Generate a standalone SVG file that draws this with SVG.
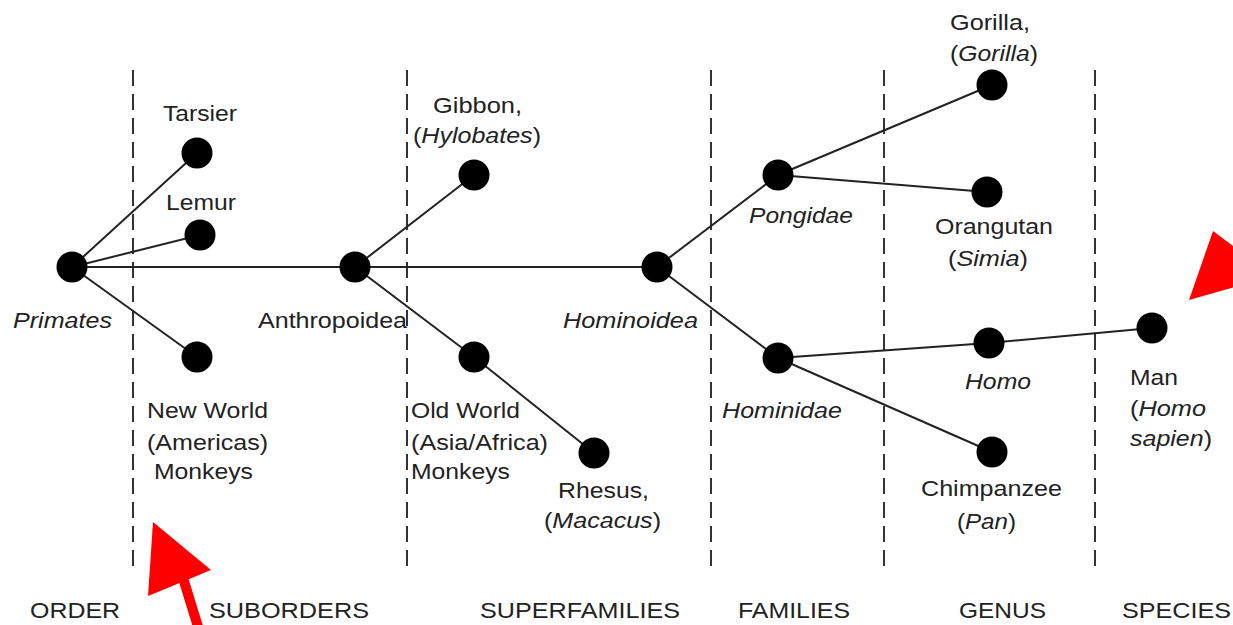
<svg xmlns="http://www.w3.org/2000/svg" width="1233" height="625" viewBox="0 0 1233 625">
<style>
text{font-family:"Liberation Sans",Arial,sans-serif;font-size:22px;fill:#222}
.i{font-style:italic}
.dash{stroke:#333;stroke-width:2;stroke-dasharray:16 8;fill:none}
.edge{stroke:#222;stroke-width:2;fill:none}
.node{fill:#000}
</style>
<rect width="1233" height="625" fill="#fff"/>
<g id="dividers">
<line class="dash" x1="133" y1="70" x2="133" y2="570"/>
<line class="dash" x1="407" y1="70" x2="407" y2="570"/>
<line class="dash" x1="711" y1="70" x2="711" y2="570"/>
<line class="dash" x1="884" y1="70" x2="884" y2="570"/>
<line class="dash" x1="1095" y1="70" x2="1095" y2="570"/>
</g>
<g id="connectors">
<line class="edge" x1="72" y1="267" x2="197" y2="153"/>
<line class="edge" x1="72" y1="267" x2="200" y2="235"/>
<line class="edge" x1="72" y1="267" x2="197" y2="357"/>
<line class="edge" x1="72" y1="267" x2="355" y2="267"/>
<line class="edge" x1="355" y1="267" x2="474" y2="175"/>
<line class="edge" x1="355" y1="267" x2="474" y2="357"/>
<line class="edge" x1="474" y1="357" x2="594" y2="453"/>
<line class="edge" x1="355" y1="267" x2="657" y2="267"/>
<line class="edge" x1="657" y1="267" x2="778" y2="175"/>
<line class="edge" x1="657" y1="267" x2="778" y2="358"/>
<line class="edge" x1="778" y1="175" x2="992" y2="85"/>
<line class="edge" x1="778" y1="175" x2="987" y2="192"/>
<line class="edge" x1="778" y1="358" x2="989" y2="343"/>
<line class="edge" x1="778" y1="358" x2="992" y2="452"/>
<line class="edge" x1="989" y1="343" x2="1152" y2="328"/>
</g>
<g id="primates"><circle class="node" cx="72" cy="267" r="15.5"/><text class="i" x="13" y="328" textLength="99" lengthAdjust="spacingAndGlyphs">Primates</text></g>
<g id="tarsier"><circle class="node" cx="197" cy="153" r="15.5"/><text x="163" y="121" textLength="74" lengthAdjust="spacingAndGlyphs">Tarsier</text></g>
<g id="lemur"><circle class="node" cx="200" cy="235" r="15.5"/><text x="166" y="210" textLength="70" lengthAdjust="spacingAndGlyphs">Lemur</text></g>
<g id="newworld"><circle class="node" cx="197" cy="357" r="15.5"/>
<text x="147" y="418" textLength="121" lengthAdjust="spacingAndGlyphs">New World</text>
<text x="147" y="450" textLength="121" lengthAdjust="spacingAndGlyphs">(Americas)</text>
<text x="154" y="479" textLength="99" lengthAdjust="spacingAndGlyphs">Monkeys</text></g>
<g id="anthropoidea"><circle class="node" cx="355" cy="267" r="15.5"/><text x="258" y="328" textLength="149" lengthAdjust="spacingAndGlyphs">Anthropoidea</text></g>
<g id="gibbon"><circle class="node" cx="474" cy="175" r="15.5"/>
<text x="433" y="113" textLength="89" lengthAdjust="spacingAndGlyphs">Gibbon,</text>
<text x="413" y="143" textLength="128" lengthAdjust="spacingAndGlyphs">(<tspan class="i">Hylobates</tspan>)</text></g>
<g id="oldworld"><circle class="node" cx="474" cy="357" r="15.5"/>
<text x="411" y="418" textLength="109" lengthAdjust="spacingAndGlyphs">Old World</text>
<text x="411" y="450" textLength="137" lengthAdjust="spacingAndGlyphs">(Asia/Africa)</text>
<text x="411" y="479" textLength="99" lengthAdjust="spacingAndGlyphs">Monkeys</text></g>
<g id="rhesus"><circle class="node" cx="594" cy="453" r="15.5"/>
<text x="558" y="498" textLength="91" lengthAdjust="spacingAndGlyphs">Rhesus,</text>
<text x="544" y="528" textLength="117" lengthAdjust="spacingAndGlyphs">(<tspan class="i">Macacus</tspan>)</text></g>
<g id="hominoidea"><circle class="node" cx="657" cy="267" r="15.5"/><text class="i" x="563" y="328" textLength="135" lengthAdjust="spacingAndGlyphs">Hominoidea</text></g>
<g id="pongidae"><circle class="node" cx="778" cy="175" r="15.5"/><text class="i" x="749" y="223" textLength="104" lengthAdjust="spacingAndGlyphs">Pongidae</text></g>
<g id="hominidae"><circle class="node" cx="778" cy="358" r="15.5"/><text class="i" x="722" y="418" textLength="120" lengthAdjust="spacingAndGlyphs">Hominidae</text></g>
<g id="gorilla"><circle class="node" cx="992" cy="85" r="15.5"/>
<text x="950" y="30" textLength="80" lengthAdjust="spacingAndGlyphs">Gorilla,</text>
<text x="950" y="61" textLength="88" lengthAdjust="spacingAndGlyphs">(<tspan class="i">Gorilla</tspan>)</text></g>
<g id="orangutan"><circle class="node" cx="987" cy="192" r="15.5"/>
<text x="935" y="234" textLength="118" lengthAdjust="spacingAndGlyphs">Orangutan</text>
<text x="948" y="266" textLength="80" lengthAdjust="spacingAndGlyphs">(<tspan class="i">Simia</tspan>)</text></g>
<g id="homo"><circle class="node" cx="989" cy="343" r="15.5"/><text class="i" x="965" y="389" textLength="66" lengthAdjust="spacingAndGlyphs">Homo</text></g>
<g id="man"><circle class="node" cx="1152" cy="328" r="15.5"/>
<text x="1130" y="385" textLength="48" lengthAdjust="spacingAndGlyphs">Man</text>
<text x="1130" y="416" textLength="76" lengthAdjust="spacingAndGlyphs">(<tspan class="i">Homo</tspan></text>
<text x="1130" y="446" textLength="82" lengthAdjust="spacingAndGlyphs"><tspan class="i">sapien</tspan>)</text></g>
<g id="chimpanzee"><circle class="node" cx="992" cy="452" r="15.5"/>
<text x="921" y="496" textLength="141" lengthAdjust="spacingAndGlyphs">Chimpanzee</text>
<text x="957" y="529" textLength="59" lengthAdjust="spacingAndGlyphs">(<tspan class="i">Pan</tspan>)</text></g>
<g id="ranks">
<text x="30" y="618" textLength="90" lengthAdjust="spacingAndGlyphs">ORDER</text>
<text x="209" y="618" textLength="160" lengthAdjust="spacingAndGlyphs">SUBORDERS</text>
<text x="480" y="618" textLength="200" lengthAdjust="spacingAndGlyphs">SUPERFAMILIES</text>
<text x="738" y="618" textLength="112" lengthAdjust="spacingAndGlyphs">FAMILIES</text>
<text x="959" y="618" textLength="87" lengthAdjust="spacingAndGlyphs">GENUS</text>
<text x="1122" y="618" textLength="109" lengthAdjust="spacingAndGlyphs">SPECIES</text>
</g>
<g id="annotations" fill="#ff0000">
<polygon points="153,522 148,596 211,570"/>
<line x1="183" y1="578" x2="199" y2="630" stroke="#ff0000" stroke-width="10"/>
<polygon points="1213,231 1189,300 1245,284 1245,255"/>
</g>
</svg>
